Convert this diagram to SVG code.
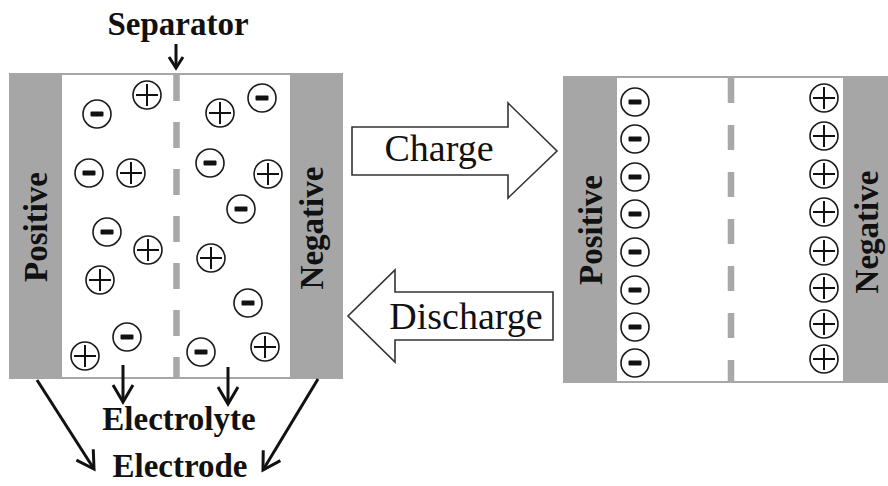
<svg xmlns="http://www.w3.org/2000/svg" xmlns:xlink="http://www.w3.org/1999/xlink" width="888" height="486" viewBox="0 0 888 486">
<style>
  .frame{fill:#a6a6a6}
  .inner{fill:#ffffff}
  .sep{stroke:#a8a8a8;stroke-width:6.5;stroke-dasharray:26 21}
  .lbl{font-family:"Liberation Serif","Times New Roman",serif;font-weight:bold;font-size:33px;fill:#111;text-anchor:middle}
  .big{font-family:"Liberation Serif","Times New Roman",serif;font-size:38px;fill:#111;text-anchor:middle}
  .blk{fill:#ffffff;stroke:#333;stroke-width:1.6;stroke-linejoin:miter}
  .ptr{fill:none;stroke:#111;stroke-width:3}
  .ionc{fill:#fff;stroke:#1a1a1a;stroke-width:1.6}
</style>
<defs>
  <marker id="headL" markerUnits="userSpaceOnUse" markerWidth="40" markerHeight="40" refX="0" refY="0" orient="auto" overflow="visible">
    <path d="M-17,-10 L0,0 L-17,10" fill="none" stroke="#111" stroke-width="3"/>
  </marker>
  <marker id="headS" markerUnits="userSpaceOnUse" markerWidth="30" markerHeight="30" refX="0" refY="0" orient="auto" overflow="visible">
    <path d="M-11,-7 L0,0 L-11,7" fill="none" stroke="#111" stroke-width="3"/>
  </marker>
  <g id="plus">
    <circle class="ionc" cx="0" cy="0" r="14"/>
    <path d="M-11,0 H11 M0,-11 V11" stroke="#111" stroke-width="2"/>
  </g>
  <g id="minus">
    <circle class="ionc" cx="0" cy="0" r="14"/>
    <rect x="-6.5" y="-2.5" width="13" height="5" rx="1" fill="#111"/>
  </g>
</defs>
<rect width="888" height="486" fill="#fff"/>

<g id="cell-discharged">
  <rect class="frame" x="9" y="73" width="334" height="306"/>
  <rect class="inner" x="62" y="75" width="228" height="302"/>
  <line class="sep" x1="176.5" y1="75" x2="176.5" y2="377"/>
  <text class="lbl" transform="translate(47,227) rotate(-90)">Positive</text>
  <text class="lbl" transform="translate(323,228) rotate(-90)">Negative</text>
  <g id="ions-left">
    <use xlink:href="#minus" x="97" y="114"/>
    <use xlink:href="#plus" x="147" y="95"/>
    <use xlink:href="#plus" x="220" y="113"/>
    <use xlink:href="#minus" x="262" y="98"/>
    <use xlink:href="#minus" x="89" y="173"/>
    <use xlink:href="#plus" x="131" y="173"/>
    <use xlink:href="#minus" x="210" y="163"/>
    <use xlink:href="#plus" x="268" y="174"/>
    <use xlink:href="#minus" x="241" y="209"/>
    <use xlink:href="#minus" x="107" y="232"/>
    <use xlink:href="#plus" x="148" y="250"/>
    <use xlink:href="#plus" x="211" y="258"/>
    <use xlink:href="#plus" x="100" y="280"/>
    <use xlink:href="#minus" x="248" y="303"/>
    <use xlink:href="#minus" x="127" y="337"/>
    <use xlink:href="#plus" x="85" y="356"/>
    <use xlink:href="#minus" x="201" y="352"/>
    <use xlink:href="#plus" x="265" y="347"/>
  </g>
</g>

<g id="cell-charged">
  <rect class="frame" x="563" y="76" width="325" height="307"/>
  <rect class="inner" x="617" y="78" width="226" height="303"/>
  <line class="sep" x1="731" y1="78" x2="731" y2="383" style="stroke-dasharray:25 22"/>
  <text class="lbl" transform="translate(602,230) rotate(-90)">Positive</text>
  <text class="lbl" transform="translate(878,232) rotate(-90)">Negative</text>
  <g id="ions-right">
    <use xlink:href="#minus" x="635" y="102"/>
    <use xlink:href="#minus" x="635" y="139"/>
    <use xlink:href="#minus" x="635" y="177"/>
    <use xlink:href="#minus" x="635" y="214"/>
    <use xlink:href="#minus" x="635" y="252"/>
    <use xlink:href="#minus" x="635" y="290"/>
    <use xlink:href="#minus" x="635" y="327"/>
    <use xlink:href="#minus" x="635" y="363"/>
    <use xlink:href="#plus" x="824" y="98"/>
    <use xlink:href="#plus" x="824" y="136"/>
    <use xlink:href="#plus" x="824" y="174"/>
    <use xlink:href="#plus" x="824" y="212"/>
    <use xlink:href="#plus" x="824" y="251"/>
    <use xlink:href="#plus" x="824" y="288"/>
    <use xlink:href="#plus" x="824" y="324"/>
    <use xlink:href="#plus" x="824" y="359"/>
  </g>
</g>

<g id="charge-arrow">
  <polygon class="blk" points="352,127 508,127 508,103 557,151 508,198 508,175 352,175"/>
  <text class="big" x="439" y="161">Charge</text>
</g>

<g id="discharge-arrow">
  <polygon class="blk" points="553,292 395,292 395,270 348,316 395,362 395,340 553,340"/>
  <text class="big" x="466" y="329">Discharge</text>
</g>

<g id="label-separator"><text class="lbl" x="178" y="35">Separator</text></g>
<g id="label-electrolyte"><text class="lbl" x="179" y="430">Electrolyte</text></g>
<g id="label-electrode"><text class="lbl" x="180" y="477">Electrode</text></g>

<g id="connectors">
  <line class="ptr" x1="176" y1="44" x2="176" y2="68" marker-end="url(#headS)"/>
  <line class="ptr" x1="123" y1="365" x2="123" y2="402" marker-end="url(#headL)"/>
  <line class="ptr" x1="228" y1="367" x2="228" y2="404" marker-end="url(#headL)"/>
  <line class="ptr" x1="37" y1="380" x2="94" y2="469" marker-end="url(#headL)"/>
  <line class="ptr" x1="318" y1="379" x2="263" y2="470" marker-end="url(#headL)"/>
</g>
</svg>
